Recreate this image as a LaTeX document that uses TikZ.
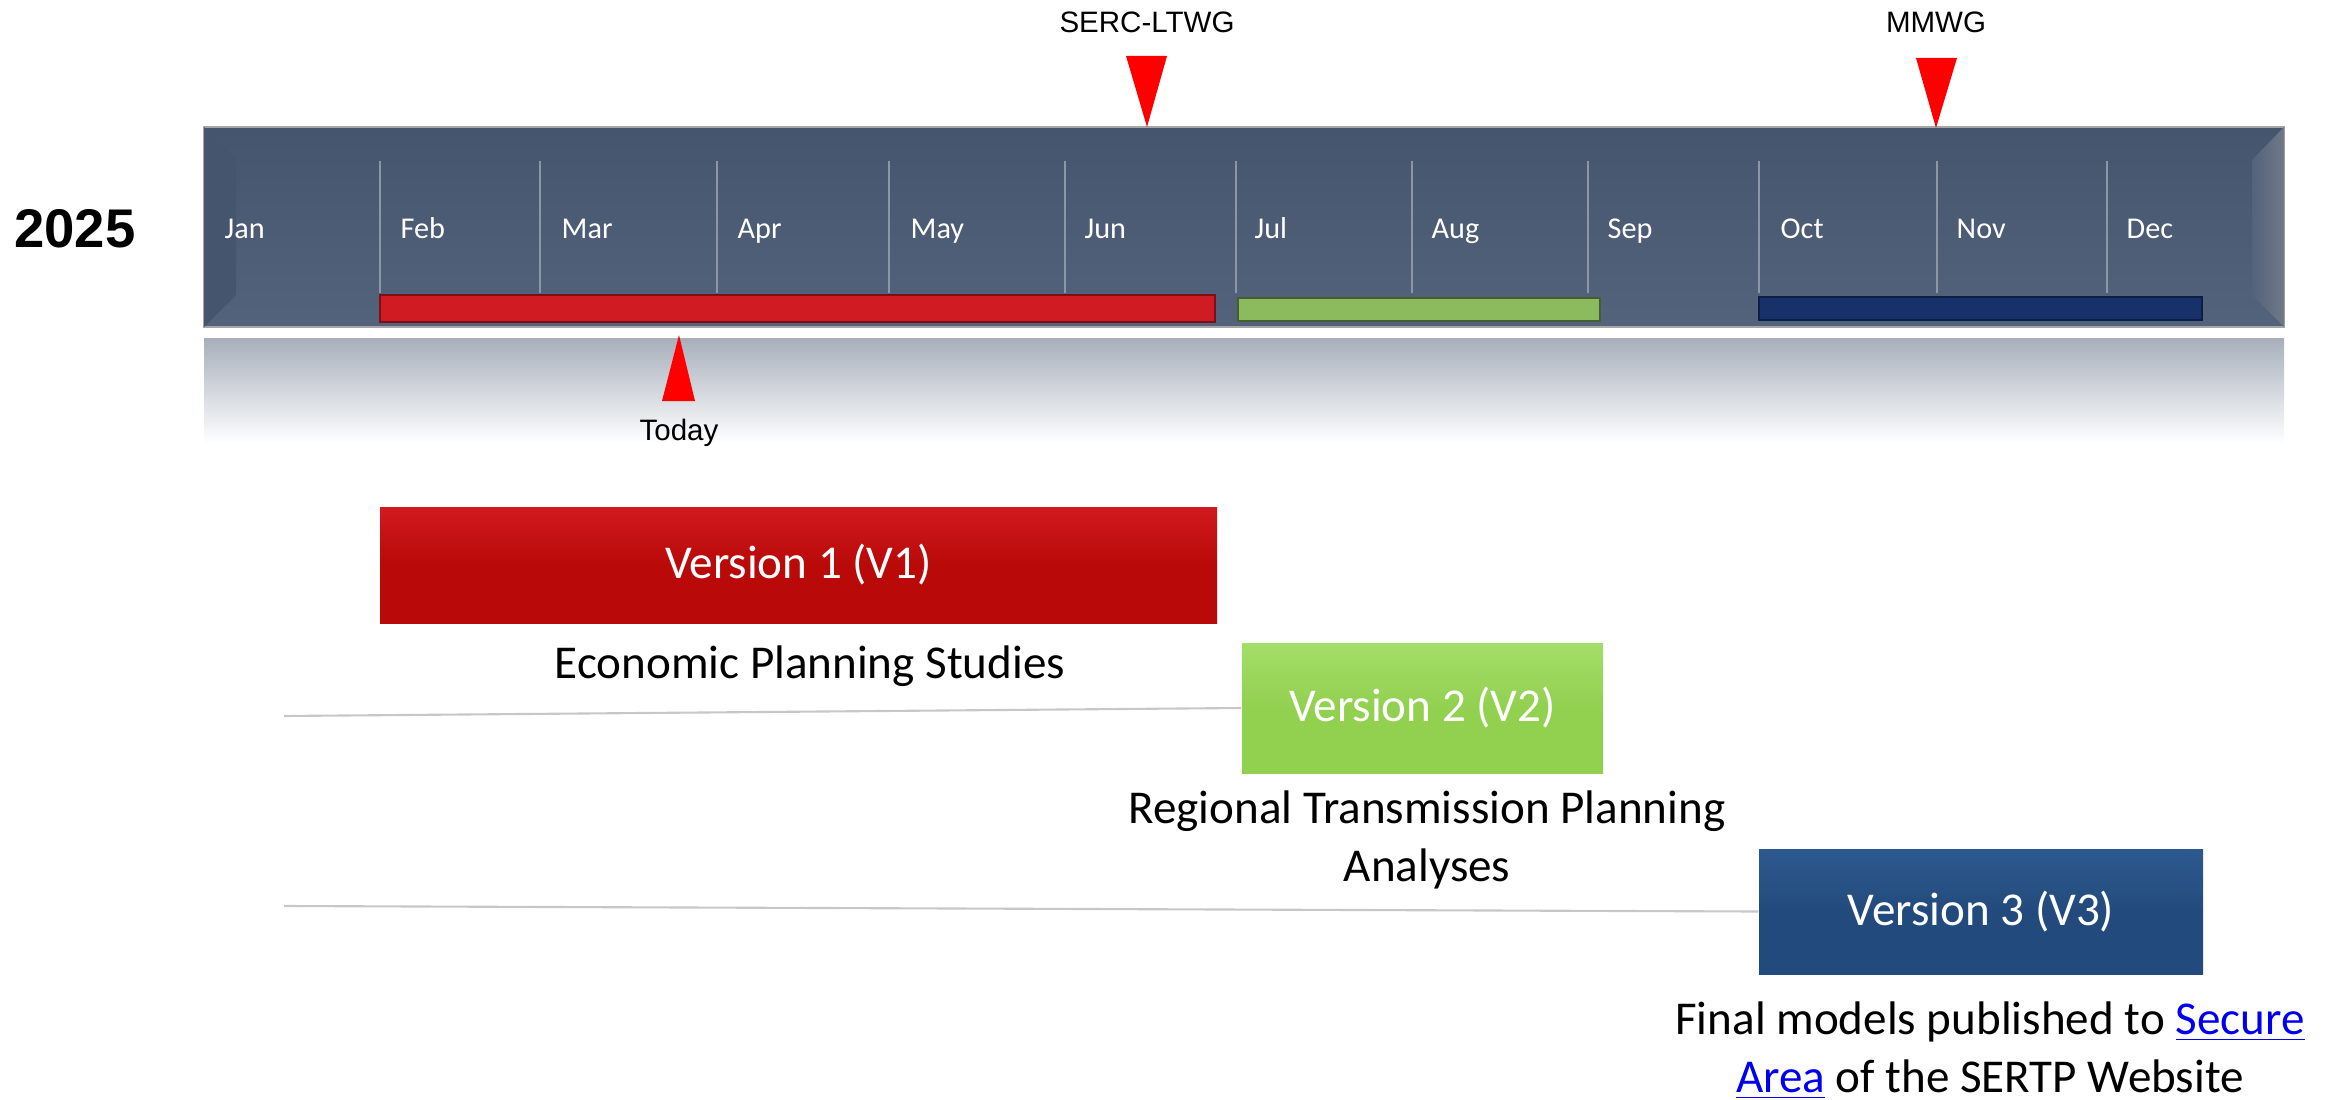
\documentclass[tikz,border=0pt]{standalone}
\usepackage{fontspec}
\setmainfont{Carlito}
\newfontfamily\arialfont{Liberation Sans}
\definecolor{bartop}{HTML}{46556E}
\definecolor{barbot}{HTML}{53637B}
\definecolor{divline}{HTML}{8B97A9}
\definecolor{glow}{HTML}{A7AFBB}
\definecolor{pred}{HTML}{D01B22}
\definecolor{pgreen}{HTML}{8CBB5E}
\definecolor{pblue}{HTML}{17326A}
\definecolor{v1red}{HTML}{B90909}
\definecolor{v1hi}{HTML}{D21A1E}
\definecolor{v2green}{HTML}{92D050}
\definecolor{v2hi}{HTML}{A4DE68}
\definecolor{v3blue}{HTML}{234A7C}
\definecolor{v3hi}{HTML}{2D5A8F}
\definecolor{linkblue}{HTML}{0000EE}

\begin{document}
\begin{tikzpicture}[
	month/.style={anchor=base west, text=white, inner sep=0pt, font=\fontsize{8.6}{10}\selectfont},
	tag/.style={anchor=base, inner sep=0pt, font=\arialfont\fontsize{8.4}{10}\selectfont},
	verbox/.style={inner sep=0pt, text=white, font=\fontsize{13.4}{16}\selectfont},
	caption/.style={anchor=base, inner sep=0pt, align=center, font=\fontsize{13.4}{16.4}\selectfont},
	track/.style={draw=black!22, line width=0.6pt}
]
	\useasboundingbox (0,0) rectangle (23.38,-11);

	% Year
	\node[anchor=base, inner sep=0pt, font=\arialfont\bfseries\fontsize{15.5}{18}\selectfont] (year) at (0.75,-2.48) {2025};

	% Bar and reflection
	\shade[top color=bartop, bottom color=barbot, draw=black!35, line width=0.3pt] (2.04,-1.27) rectangle (22.84,-3.27);
	\fill[bartop] (2.04,-1.27) -- (2.36,-1.60) -- (2.36,-2.95) -- (2.04,-3.27) -- cycle;
	\shade[left color=barbot, right color=black!20!divline] (22.52,-1.60) -- (22.84,-1.27) -- (22.84,-3.27) -- (22.52,-2.95) -- cycle;
	\shade[top color=glow, bottom color=white] (2.04,-3.38) rectangle (22.84,-4.43);

	% Months
	\foreach \x in {3.80,5.40,7.17,8.89,10.65,12.36,14.12,15.88,17.59,19.37,21.07} {
		\draw[divline, line width=0.5pt] (\x,-1.61) -- (\x,-2.93);
	}
	\foreach \m/\x in {Jan/2.24,Feb/4.00,Mar/5.61,Apr/7.37,May/9.10,Jun/10.84,Jul/12.54,Aug/14.31,Sep/16.07,Oct/17.80,Nov/19.56,Dec/21.26} {
		\node[month] (m\m) at (\x,-2.39) {\m};
	}

	% Progress
	\fill[pred, draw=pred!60!black, line width=0.4pt] (3.80,-2.95) rectangle (12.15,-3.22);
	\fill[pgreen, draw=pgreen!50!black, line width=0.4pt] (12.38,-2.98) rectangle (16.00,-3.21);
	\fill[pblue, draw=pblue!60!black, line width=0.4pt] (17.59,-2.97) rectangle (22.02,-3.20);

	% Markers
	\node[tag] (ltwg) at (11.47,-0.33) {SERC-LTWG};
	\fill[red] (11.26,-0.56) -- (11.67,-0.56) -- (11.47,-1.27) -- cycle;
	\node[tag] (mmwg) at (19.36,-0.33) {MMWG};
	\fill[red] (19.16,-0.58) -- (19.57,-0.58) -- (19.36,-1.28) -- cycle;
	\fill[red] (6.62,-4.01) -- (6.95,-4.01) -- (6.79,-3.35) -- cycle;
	\node[tag] (today) at (6.79,-4.40) {Today};

	% Versions
	\node[verbox, minimum width=8.37cm, minimum height=1.16cm, top color=v1hi, bottom color=v1red, middle color=v1red] (v1) at (7.985,-5.65) {Version 1 (V1)};
	\node[verbox, minimum width=3.61cm, minimum height=1.30cm, top color=v2hi, bottom color=v2green, middle color=v2green] (v2) at (14.225,-7.08) {Version 2 (V2)};
	\node[verbox, minimum width=4.44cm, minimum height=1.25cm, top color=v3hi, bottom color=v3blue, middle color=v3blue] (v3) at (19.81,-9.115) {Version 3 (V3)};

	\node[caption] (c1) at (8.10,-6.78) {Economic Planning Studies};
	\node[caption] (c2) at (14.27,-8.81) {Regional Transmission Planning\\Analyses};
	\node[caption] (c3) at (19.90,-10.92) {Final models published to \textcolor{linkblue}{\underline{Secure}}\\\textcolor{linkblue}{\underline{Area}} of the SERTP Website};

	% Tracks
	\coordinate (t1) at (2.84,-7.16);
	\coordinate (t2) at (2.84,-9.06);
	\draw[track] (t1) -- (v2.west);
	\draw[track] (t2) -- (v3.west);
\end{tikzpicture}
\end{document}
